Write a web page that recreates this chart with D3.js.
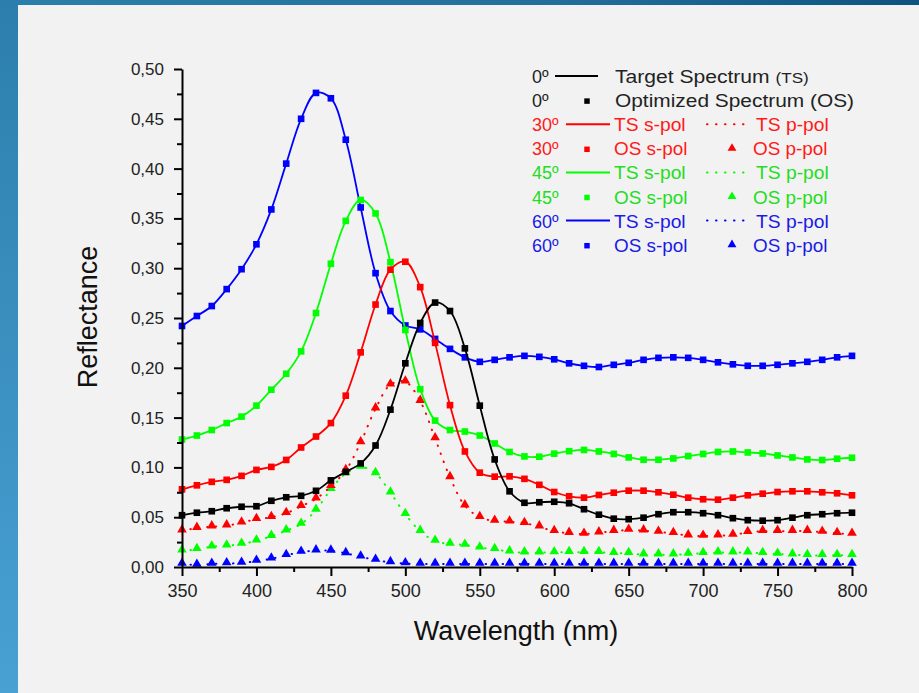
<!DOCTYPE html>
<html>
<head>
<meta charset="utf-8">
<script src="https://cdn.jsdelivr.net/npm/d3@7"></script>
<style>
  body { margin: 0; background: #f2f2f2; }
  text { font-family: "Liberation Sans", Arial, sans-serif; }
</style>
</head>
<body>
<div id="contenedor"></div>
<script>
// longitudes de onda (nm), un punto cada 10 nm
var longitudes = [350, 360, 370, 380, 390, 400, 410, 420, 430, 440,
                  450, 460, 470, 480, 490, 500, 510, 520, 530, 540,
                  550, 560, 570, 580, 590, 600, 610, 620, 630, 640,
                  650, 660, 670, 680, 690, 700, 710, 720, 730, 740,
                  750, 760, 770, 780, 790, 800];

// 0 grados
var ref0 = [0.052, 0.0545, 0.056, 0.059, 0.0605, 0.061, 0.0665, 0.070, 0.0715, 0.0765,
            0.087, 0.0955, 0.104, 0.122, 0.158, 0.2045, 0.245, 0.2655, 0.257, 0.2195,
            0.162, 0.108, 0.076, 0.0645, 0.065, 0.0655, 0.064, 0.058, 0.0525, 0.0485,
            0.048, 0.0495, 0.053, 0.055, 0.055, 0.054, 0.052, 0.049, 0.047, 0.0465,
            0.047, 0.0495, 0.052, 0.053, 0.054, 0.0545];

// 30 grados
var ref30s = [0.078, 0.082, 0.0855, 0.0875, 0.0915, 0.0975, 0.1005, 0.1075, 0.120, 0.131,
              0.1445, 0.172, 0.2155, 0.2635, 0.2985, 0.3065, 0.281, 0.225, 0.1625, 0.116,
              0.0947, 0.0907, 0.091, 0.0885, 0.0825, 0.0753, 0.071, 0.0696, 0.0723, 0.0746,
              0.0766, 0.0766, 0.075, 0.0726, 0.0696, 0.068, 0.0676, 0.0696, 0.072, 0.0736,
              0.0753, 0.076, 0.076, 0.075, 0.074, 0.072];
var ref30p = [0.0365, 0.039, 0.0405, 0.0415, 0.0445, 0.048, 0.050, 0.054, 0.061, 0.0685,
              0.081, 0.097, 0.125, 0.159, 0.183, 0.186, 0.1665, 0.129, 0.090, 0.0616,
              0.050, 0.0462, 0.0455, 0.044, 0.0405, 0.0358, 0.034, 0.0331, 0.0345, 0.036,
              0.0371, 0.0365, 0.0351, 0.0338, 0.0315, 0.0311, 0.0315, 0.0321, 0.0348, 0.0358,
              0.036, 0.036, 0.036, 0.0351, 0.0338, 0.0331];

// 45 grados
var ref45s = [0.128, 0.132, 0.1375, 0.1445, 0.151, 0.162, 0.178, 0.194, 0.2165, 0.255,
              0.3045, 0.3475, 0.3685, 0.355, 0.306, 0.238, 0.1785, 0.147, 0.1375, 0.136,
              0.132, 0.124, 0.1155, 0.111, 0.1107, 0.1138, 0.1163, 0.1175, 0.116, 0.1135,
              0.110, 0.1077, 0.1077, 0.109, 0.1114, 0.1135, 0.1155, 0.116, 0.115, 0.114,
              0.112, 0.110, 0.108, 0.1074, 0.1087, 0.1097];
var ref45p = [0.0164, 0.0178, 0.0204, 0.0214, 0.0231, 0.0264, 0.031, 0.0365, 0.0432, 0.0572,
              0.078, 0.094, 0.1005, 0.094, 0.0746, 0.0529, 0.036, 0.0261, 0.0231, 0.0221,
              0.0194, 0.0178, 0.0154, 0.0144, 0.0144, 0.0146, 0.0148, 0.0148, 0.0148, 0.0138,
              0.0138, 0.0124, 0.0124, 0.0124, 0.013, 0.0138, 0.0144, 0.0144, 0.0144, 0.0138,
              0.013, 0.0124, 0.0117, 0.0117, 0.0117, 0.0117];

// 60 grados
var ref60s = [0.242, 0.252, 0.262, 0.279, 0.299, 0.324, 0.359, 0.405, 0.450, 0.476,
              0.4706, 0.429, 0.361, 0.295, 0.257, 0.2425, 0.2386, 0.229, 0.219, 0.2105,
              0.206, 0.208, 0.2105, 0.212, 0.211, 0.2085, 0.2045, 0.202, 0.2008, 0.203,
              0.205, 0.208, 0.210, 0.2105, 0.210, 0.208, 0.2055, 0.2035, 0.202, 0.202,
              0.203, 0.2045, 0.206, 0.208, 0.2105, 0.212];
var ref60p = [0.003, 0.002, 0.003, 0.0035, 0.004, 0.006, 0.0083, 0.0117, 0.015, 0.0164,
              0.0162, 0.0137, 0.0103, 0.007, 0.0046, 0.0035, 0.003, 0.003, 0.003, 0.003,
              0.003, 0.003, 0.003, 0.003, 0.003, 0.003, 0.003, 0.003, 0.003, 0.003,
              0.003, 0.003, 0.003, 0.003, 0.003, 0.003, 0.003, 0.003, 0.003, 0.003,
              0.003, 0.003, 0.003, 0.003, 0.003, 0.003];

var ticksX = [350, 400, 450, 500, 550, 600, 650, 700, 750, 800];
var ticksXmenor = [375, 425, 475, 525, 575, 625, 675, 725, 775];
var ticksY = [0, 0.05, 0.10, 0.15, 0.20, 0.25, 0.30, 0.35, 0.40, 0.45, 0.50];
var ticksYmenor = [0.025, 0.075, 0.125, 0.175, 0.225, 0.275, 0.325, 0.375, 0.425, 0.475];

var angulos = ["30º", "45º", "60º"];
var colores = ["#ff0000", "#00ff00", "#0000ff"];
var colorTexto = ["#ff1a1a", "#22dd22", "#1a1ae6"];

// texto algo estirado a lo ancho, como en la imagen original
function texto(g, x, y, s, color, tam, sx){
	return g.append("text")
		.attr("transform", "translate(" + x + "," + y + ") scale(" + sx + ",1)")
		.attr("fill", color)
		.style("font-size", tam + "px")
		.text(s);
}

function graficar(){
	var width = 919;
	var height = 693;

	var svg = d3.select("#contenedor")
				.append("svg")
				.attr("width", width)
				.attr("height", height);

	// marco azul de la ventana
	var defs = svg.append("defs");
	var gradArriba = defs.append("linearGradient").attr("id", "gradArriba");
	gradArriba.append("stop").attr("offset", "0%").attr("stop-color", "#2b7fac");
	gradArriba.append("stop").attr("offset", "60%").attr("stop-color", "#236f9c");
	gradArriba.append("stop").attr("offset", "100%").attr("stop-color", "#0d5380");
	var gradIzq = defs.append("linearGradient").attr("id", "gradIzq")
				.attr("x1", 0).attr("y1", 0).attr("x2", 0).attr("y2", 1);
	gradIzq.append("stop").attr("offset", "0%").attr("stop-color", "#2c7fac");
	gradIzq.append("stop").attr("offset", "100%").attr("stop-color", "#48a0d3");

	svg.append("rect").attr("width", width).attr("height", height).attr("fill", "#f2f2f2");
	svg.append("rect").attr("width", width).attr("height", 5).attr("fill", "url(#gradArriba)");
	svg.append("rect").attr("width", 18).attr("height", height).attr("fill", "url(#gradIzq)");

	var x = d3.scaleLinear().domain([350, 800]).range([182, 852]);
	var y = d3.scaleLinear().domain([0, 0.5]).range([567, 69]);

	var linea = d3.line()
				.x(function(d, i){ return x(longitudes[i]); })
				.y(function(d){ return y(d); })
				.curve(d3.curveCatmullRom.alpha(0.5));

	var cuadrado = d3.symbol().type(d3.symbolSquare).size(44);
	var triangulo = d3.symbol().type(d3.symbolTriangle).size(40);

	var series = [
		{ s: ref60s, p: ref60p, color: colores[2] },
		{ s: ref45s, p: ref45p, color: colores[1] },
		{ s: ref30s, p: ref30p, color: colores[0] }
	];

	var graf = svg.append("g");

	// primero las p-pol (punteadas + triangulos)
	series.forEach(function(serie){
		graf.append("path")
			.attr("d", linea(serie.p))
			.attr("fill", "none")
			.attr("stroke", serie.color)
			.attr("stroke-width", 2)
			.attr("stroke-linecap", "round")
			.attr("stroke-dasharray", "0.5,8");
		graf.selectAll(null)
			.data(serie.p)
			.enter()
			.append("path")
			.attr("d", triangulo)
			.attr("fill", serie.color)
			.attr("transform", function(d, i){
				return "translate(" + x(longitudes[i]) + "," + (y(d) - 1) + ")";
			});
	});

	// despues las s-pol y la de 0 grados
	series.concat([{ s: ref0, color: "#000000" }]).forEach(function(serie){
		graf.append("path")
			.attr("d", linea(serie.s))
			.attr("fill", "none")
			.attr("stroke", serie.color)
			.attr("stroke-width", 1.8);
		graf.selectAll(null)
			.data(serie.s)
			.enter()
			.append("path")
			.attr("d", cuadrado)
			.attr("fill", serie.color)
			.attr("transform", function(d, i){
				return "translate(" + x(longitudes[i]) + "," + y(d) + ")";
			});
	});

	// ejes
	var ejeX = svg.append("g")
				.attr("transform", "translate(0,567)")
				.call(d3.axisBottom(x).tickValues(ticksX).tickSize(9).tickSizeOuter(0).tickPadding(8)
						.tickFormat(d3.format("d")));
	ejeX.selectAll("text").style("font-size", "18px");
	svg.append("g")
		.attr("transform", "translate(0,567)")
		.call(d3.axisBottom(x).tickValues(ticksXmenor).tickSize(5).tickFormat(""))
		.select(".domain").remove();

	var ejeY = svg.append("g")
				.attr("transform", "translate(182,0)")
				.call(d3.axisLeft(y).tickValues(ticksY).tickSize(8).tickSizeOuter(0).tickPadding(10)
						.tickFormat(function(d){ return d3.format(".2f")(d).replace(".", ","); }));
	ejeY.selectAll("text").style("font-size", "17px");
	svg.append("g")
		.attr("transform", "translate(182,0)")
		.call(d3.axisLeft(y).tickValues(ticksYmenor).tickSize(5).tickFormat(""))
		.select(".domain").remove();

	svg.selectAll(".domain").attr("stroke", "#000").attr("stroke-width", 2);
	svg.selectAll(".tick line").attr("stroke", "#000").attr("stroke-width", 2);
	svg.selectAll(".tick text")
		.attr("fill", "#222")
		.style("font-family", "'Liberation Sans', Arial, sans-serif");

	// titulos de ejes
	svg.append("text")
		.attr("x", 516)
		.attr("y", 640)
		.attr("text-anchor", "middle")
		.attr("fill", "#111")
		.style("font-size", "27px")
		.text("Wavelength (nm)");
	svg.append("text")
		.attr("transform", "translate(97,317) rotate(-90)")
		.attr("text-anchor", "middle")
		.attr("fill", "#111")
		.style("font-size", "27px")
		.text("Reflectance");

	// leyenda
	var ley = svg.append("g");
	var base = 83;
	var paso = 24.1;

	texto(ley, 532, base, "0º", "#222", 18, 1);
	ley.append("line").attr("x1", 555).attr("x2", 598).attr("y1", base - 7).attr("y2", base - 7)
		.attr("stroke", "#000").attr("stroke-width", 2);
	var t0 = texto(ley, 615, base, "Target Spectrum ", "#222", 18.5, 1.14);
	t0.append("tspan").style("font-size", "15px").text("(TS)");

	texto(ley, 532, base + paso, "0º", "#222", 18, 1);
	ley.append("path").attr("d", d3.symbol().type(d3.symbolSquare).size(30))
		.attr("transform", "translate(587," + (base + paso - 6) + ")");
	texto(ley, 615, base + paso, "Optimized Spectrum (OS)", "#222", 18.5, 1.13);

	angulos.forEach(function(ang, k){
		var b1 = base + paso * (2 + 2 * k);
		var b2 = b1 + paso;
		var c = colores[k];
		var ct = colorTexto[k];

		texto(ley, 532, b1, ang, ct, 18, 1);
		ley.append("line").attr("x1", 566).attr("x2", 610).attr("y1", b1 - 7).attr("y2", b1 - 7)
			.attr("stroke", c).attr("stroke-width", 2);
		texto(ley, 614, b1, "TS s-pol", ct, 18, 1.07);
		ley.append("line").attr("x1", 707).attr("x2", 749).attr("y1", b1 - 7).attr("y2", b1 - 7)
			.attr("stroke", c).attr("stroke-width", 2).attr("stroke-linecap", "round")
			.attr("stroke-dasharray", "0.5,8.5");
		texto(ley, 756, b1, "TS p-pol", ct, 18, 1.07);

		texto(ley, 532, b2, ang, ct, 18, 1);
		ley.append("path").attr("d", d3.symbol().type(d3.symbolSquare).size(30))
			.attr("fill", c)
			.attr("transform", "translate(587," + (b2 - 6) + ")");
		texto(ley, 614, b2, "OS s-pol", ct, 18, 1.05);
		ley.append("path").attr("d", d3.symbol().type(d3.symbolTriangle).size(34))
			.attr("fill", c)
			.attr("transform", "translate(732," + (b2 - 7) + ")");
		texto(ley, 753, b2, "OS p-pol", ct, 18, 1.05);
	});
}

graficar();
</script>
</body>
</html>
